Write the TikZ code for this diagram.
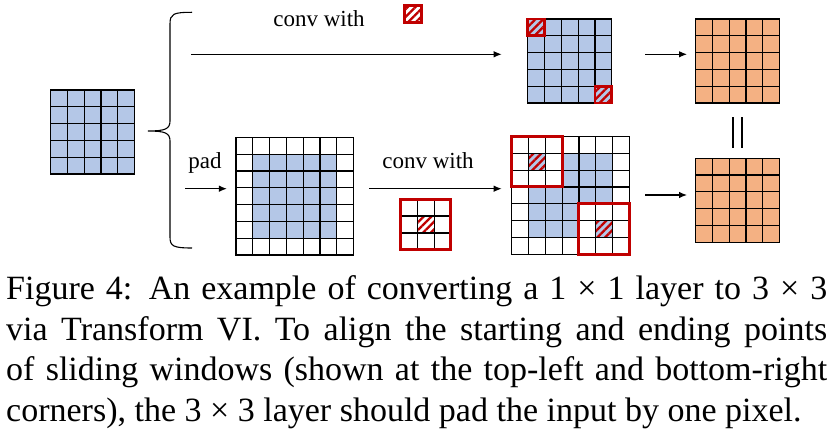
\documentclass[tikz,border=0pt]{standalone}
\usepackage{fontspec}
\setmainfont{Liberation Serif}
\usetikzlibrary{arrows.meta,calc,patterns.meta}

\definecolor{inblue}{HTML}{B4C7E7}
\definecolor{outorange}{HTML}{F4B183}
\definecolor{winred}{HTML}{C00000}
\newcommand\cellsz{16.8}
% n x n cell lines inside a (filled) block node
\newcommand\cellgrid[2]{%
  \foreach \k in {0,...,#2}{%
    \draw[gridline] ($(#1.north west)+(\k*\cellsz,0)$) -- ($(#1.south west)+(\k*\cellsz,0)$);
    \draw[gridline] ($(#1.north west)+(0,\k*\cellsz)$) -- ($(#1.north east)+(0,\k*\cellsz)$);}}
\tikzset{
  gridline/.style={line width=1.2pt, line cap=rect},
  blk/.style={inner sep=0pt, outer sep=0pt, minimum size=#1},
  win/.style={draw=winred, line width=3pt},
  hatch/.style={pattern={Lines[angle=45,distance=5.5pt,line width=2.3pt]}, pattern color=winred},
  arr/.style={-{Latex[length=8pt,width=6.5pt]}, line width=1.1pt},
  lbl/.style={font=\fontsize{23}{27}\selectfont, inner sep=0pt, anchor=base},
}

\begin{document}
\begin{tikzpicture}[x=1pt,y=-1pt]
  \useasboundingbox (0,0) rectangle (834,438);
  % input
  \node[blk=84pt, fill=inblue] (in) at (92.5,132) {};
  \cellgrid{in}{5}
  % brace
  \draw[line width=1.1pt] (192,12.3) .. controls (173,12.3) and (170,14) .. (170,24) -- (170,121)
    .. controls (170,129) and (165,131) .. (148,131) .. controls (165,131) and (170,133) .. (170,141)
    -- (170,237) .. controls (170,246) and (173,248) .. (192,248);
  \coordinate (upstart) at (191,54.3);
  \coordinate (lowstart) at (185,188.7);
  \coordinate (lowright) at (645,195);

  % upper branch
  \node[lbl] (convA) at (319,26.7) {conv with};
  \node[blk=16.8pt, fill=white] (kA) at (413,14) {};
  \fill[hatch] (kA.north west) rectangle (kA.south east);
  \draw[win, line width=2.7pt] (kA.north west) rectangle (kA.south east);

  \node[blk=84pt, fill=inblue] (outA) at (569.7,61) {};
  \fill[hatch] (outA.north west) rectangle ++(\cellsz,\cellsz);
  \fill[hatch] (outA.south east) rectangle ++(-\cellsz,-\cellsz);
  \cellgrid{outA}{5}
  \draw[win, line width=2.7pt] (outA.north west) rectangle ++(\cellsz,\cellsz);
  \draw[win, line width=2.7pt] (outA.south east) rectangle ++(-\cellsz,-\cellsz);

  \node[blk=84pt, fill=outorange] (oA) at (737.6,61.1) {};
  \cellgrid{oA}{5}

  \draw[arr, shorten >=26pt] (upstart) -- (upstart -| outA.west);
  \draw[arr, shorten <=33.3pt, shorten >=8.6pt] (outA.east |- upstart) -- (oA.west |- upstart);

  % lower branch
  \node[lbl] (padtxt) at (205,168.3) {pad};
  \node[blk=117.6pt, fill=white] (padA) at (294.7,196.2) {};
  \fill[inblue] ($(padA.north west)+(\cellsz,\cellsz)$) rectangle ($(padA.south east)-(\cellsz,\cellsz)$);
  \cellgrid{padA}{7}

  \node[lbl] (convB) at (428,168.3) {conv with};
  \node[blk=50.4pt, fill=white] (kern) at (425.7,224.5) {};
  \fill[hatch] ($(kern.north west)+(\cellsz,\cellsz)$) rectangle ++(\cellsz,\cellsz);
  \cellgrid{kern}{3}
  \draw[win] (kern.north west) rectangle (kern.south east);

  \node[blk=117.6pt, fill=white] (padB) at (570.5,195.4) {};
  \fill[inblue] ($(padB.north west)+(\cellsz,\cellsz)$) rectangle ($(padB.south east)-(\cellsz,\cellsz)$);
  \fill[white] (padB.north west) rectangle ++(3*\cellsz,3*\cellsz);
  \fill[white] (padB.south east) rectangle ++(-3*\cellsz,-3*\cellsz);
  \fill[inblue] ($(padB.north west)+(\cellsz,\cellsz)$) rectangle ++(\cellsz,\cellsz);
  \fill[hatch] ($(padB.north west)+(\cellsz,\cellsz)$) rectangle ++(\cellsz,\cellsz);
  \fill[inblue] ($(padB.south east)-(\cellsz,\cellsz)$) rectangle ++(-\cellsz,-\cellsz);
  \fill[hatch] ($(padB.south east)-(\cellsz,\cellsz)$) rectangle ++(-\cellsz,-\cellsz);
  \cellgrid{padB}{7}
  \draw[win] (padB.north west) rectangle ++(3*\cellsz,3*\cellsz);
  \draw[win] (padB.south east) rectangle ++(-3*\cellsz,-3*\cellsz);

  \node[blk=84pt, fill=outorange] (oB) at (737.6,200.3) {};
  \cellgrid{oB}{5}

  \draw[arr, shorten >=9pt] (lowstart) -- (lowstart -| padA.west);
  \draw[arr, shorten <=15.7pt, shorten >=10pt] (padA.east |- lowstart) -- (padB.west |- lowstart);
  \draw[arr, shorten >=8.6pt] (lowright) -- (lowright -| oB.west);

  % equal sign
  \draw[line width=2.3pt, shorten <=14pt, shorten >=10.6pt] ([xshift=-4.5pt]oA.south) -- ([xshift=-4.5pt]oB.north);
  \draw[line width=2.3pt, shorten <=14pt, shorten >=10.6pt] ([xshift=4.5pt]oA.south) -- ([xshift=4.5pt]oB.north);

  % caption
  \node[anchor=base west, text width=821pt, align=justify, inner sep=0pt,
        font=\fontsize{34}{40.7}\selectfont] (cap) at (6,299.3)
    {\parfillskip=0pt\hyphenpenalty=10000
     Figure 4: An example of converting a 1 × 1 layer to 3 × 3\linebreak
     via Transform VI. To align the starting and ending points\linebreak
     of sliding windows (shown at the top-left and bottom-right\linebreak
     corners), the 3 × 3 layer should pad the input by one pixel.};
\end{tikzpicture}
\end{document}
